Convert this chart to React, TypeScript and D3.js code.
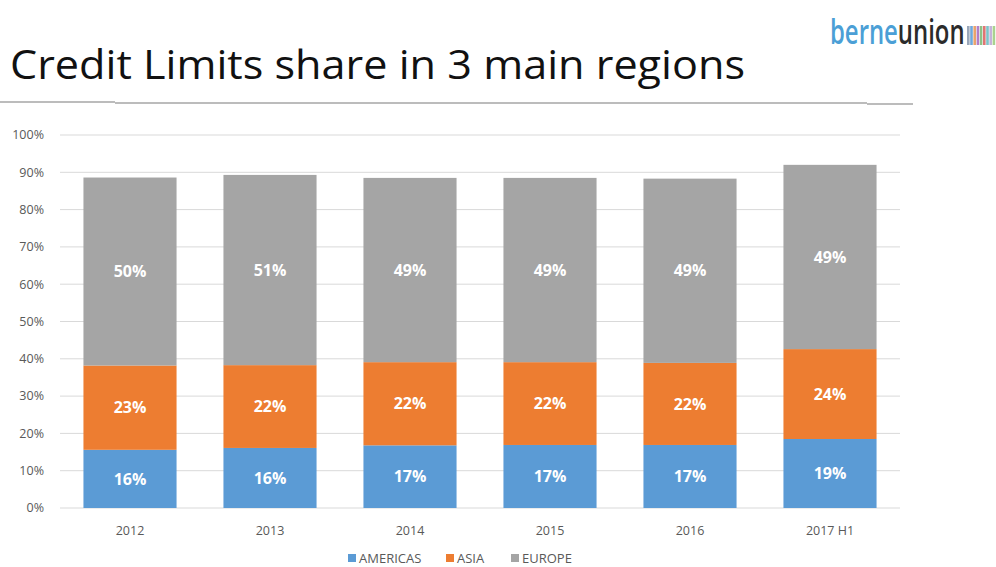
import React from "react";
import * as d3 from "d3";

const years = ["2012", "2013", "2014", "2015", "2016", "2017 H1"];
const americas = [15.6, 16.1, 16.8, 16.9, 16.9, 18.5];
const asia = [22.6, 22.2, 22.3, 22.2, 22.0, 24.1];
const europe = [50.4, 51.0, 49.4, 49.4, 49.4, 49.4];
const yTicks = [0, 10, 20, 30, 40, 50, 60, 70, 80, 90, 100];

const seriesNames = ["AMERICAS", "ASIA", "EUROPE"];
const colors = ["#5b9bd5", "#ed7d31", "#a5a5a5"];
const stripeColors = ["#9aa7ba", "#6fa8dc", "#e9a46c", "#b27fc8", "#8fc187", "#e07474", "#7cc3c9", "#c6b2da", "#a9d28f"];

const W = 996;
const H = 567;

const App = () => {
  const x = d3.scaleBand().domain(years).range([60, 900]).paddingInner(0.335).paddingOuter(0.1675);
  const y = d3.scaleLinear().domain([0, 100]).range([508, 135]);

  const rows = years.map((yr, i) => ({ year: yr, AMERICAS: americas[i], ASIA: asia[i], EUROPE: europe[i] }));
  const stacked = d3.stack<any>().keys(seriesNames)(rows);

  const font = "'Open Sans', sans-serif";

  return (
    <svg width={W} height={H} style={{ position: "absolute", left: 0, top: 0, background: "#fff" }}>
      {/* title */}
      <text x={10} y={79} fontFamily={font} fontSize={41} fill="#111" textLength={735} lengthAdjust="spacingAndGlyphs">
        Credit Limits share in 3 main regions
      </text>
      {/* logo, squeezed horizontally */}
      <text
        transform="translate(830,44) scale(0.66,1)"
        fontFamily={font}
        fontSize={34}
        fontWeight={600}
        textLength={204}
        lengthAdjust="spacingAndGlyphs"
      >
        <tspan fill="#4b9fd6">berne</tspan>
        <tspan fill="#2b2b2b">union</tspan>
      </text>
      {stripeColors.map((c, i) => (
        <rect key={c} x={967 + i * 3.2} y={26} width={2.6} height={19} fill={c} />
      ))}
      {/* rule under title */}
      <line x1={0} x2={115} y1={102} y2={102} stroke="#a6a6a6" strokeWidth={1.5} />
      <line x1={115} x2={867} y1={103} y2={103} stroke="#a6a6a6" strokeWidth={1.5} />
      <line x1={867} x2={913} y1={104} y2={104} stroke="#a6a6a6" strokeWidth={1.5} />

      {/* grid + y axis */}
      {yTicks.map((t) => (
        <g key={t}>
          <line x1={60} x2={900} y1={y(t)} y2={y(t)} stroke="#d9d9d9" strokeWidth={1} />
          <text x={44} y={y(t)} dy="0.35em" textAnchor="end" fontFamily={font} fontSize={12.5} fill="#595959">
            {t}%
          </text>
        </g>
      ))}

      {/* bars */}
      {stacked.map((s, si) => (
        <g key={s.key}>
          {s.map((d, i) => {
            const top = y(d[1]);
            const bot = y(d[0]);
            const val = d[1] - d[0];
            return (
              <g key={years[i]}>
                <rect x={x(years[i])} y={top} width={x.bandwidth()} height={bot - top} fill={colors[si]} />
                <text
                  x={(x(years[i]) as number) + x.bandwidth() / 2}
                  y={(top + bot) / 2}
                  dy="0.35em"
                  textAnchor="middle"
                  fontFamily={font}
                  fontSize={16}
                  fontWeight={700}
                  fill="#fff"
                >
                  {Math.round(val)}%
                </text>
              </g>
            );
          })}
        </g>
      ))}

      {/* x labels */}
      {years.map((yr) => (
        <text key={yr} x={(x(yr) as number) + x.bandwidth() / 2} y={531} dy="0.35em" textAnchor="middle" fontFamily={font} fontSize={12.5} fill="#595959">
          {yr}
        </text>
      ))}

      {/* legend */}
      {seriesNames.map((n, i) => {
        const lx = [348, 446, 511][i];
        return (
          <g key={n}>
            <rect x={lx} y={554} width={8} height={8} fill={colors[i]} />
            <text x={lx + 11} y={558} dy="0.35em" fontFamily={font} fontSize={13} fill="#595959">
              {n}
            </text>
          </g>
        );
      })}
    </svg>
  );
};

export default App;
